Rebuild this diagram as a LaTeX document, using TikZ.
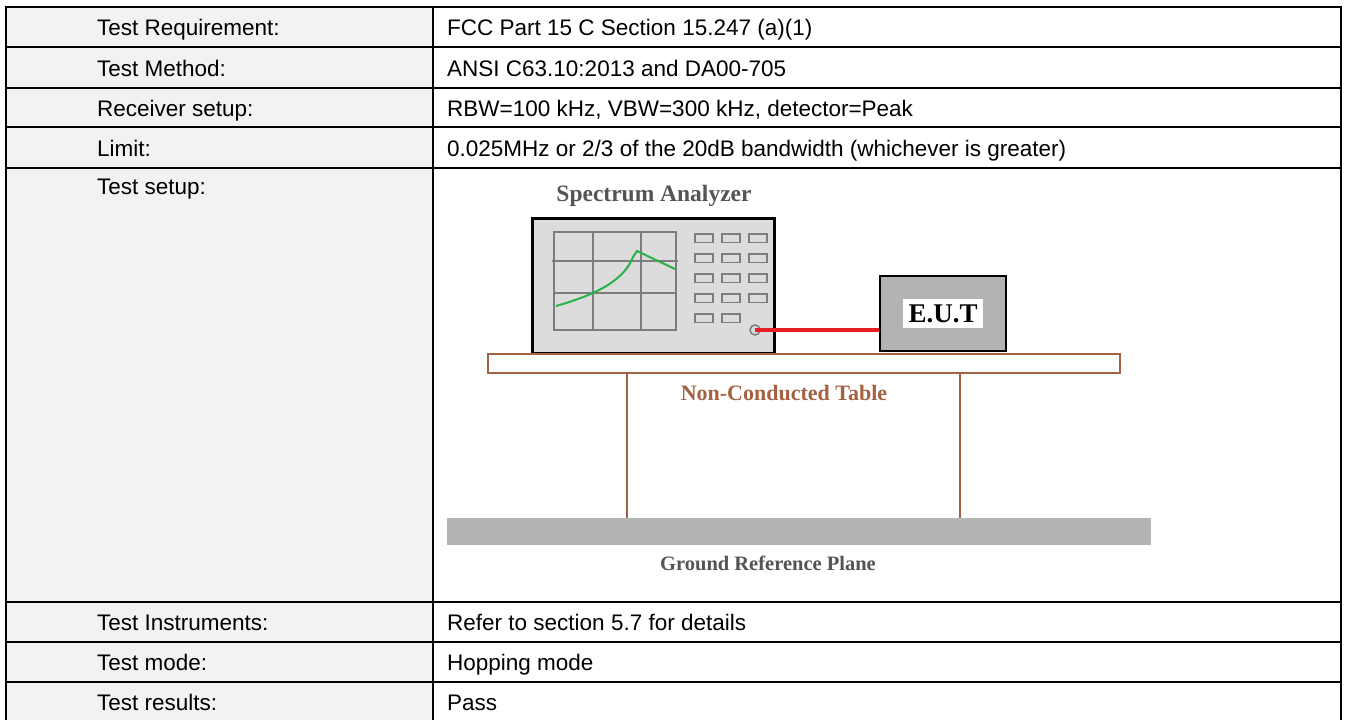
\documentclass[tikz,border=0pt]{standalone}
\usepackage{fontspec}
\setmainfont{Liberation Sans}
\newfontfamily\drawfont{Liberation Serif}
\usetikzlibrary{positioning}

\definecolor{cellgray}{RGB}{242,242,242}
\definecolor{sagray}{RGB}{220,220,220}
\definecolor{gridgray}{RGB}{125,125,125}
\definecolor{tracegreen}{RGB}{40,178,72}
\definecolor{cablered}{RGB}{232,28,36}
\definecolor{eutgray}{RGB}{179,179,179}
\definecolor{gndgray}{RGB}{180,180,180}
\definecolor{tablebrown}{RGB}{163,98,66}
\definecolor{satext}{RGB}{84,84,84}

\tikzset{
    rule/.style={line width=2pt},
    cellname/.style={font=\fontsize{22.5}{26}\selectfont,text height=16pt,text depth=0pt,inner sep=0pt,anchor=west},
    cellvalue/.style={cellname},
    gridline/.style={draw=gridgray,line width=2pt},
    button/.style={draw=gridgray,fill=sagray,line width=1.8pt,minimum width=18pt,minimum height=8.5pt,inner sep=0pt,anchor=north west},
    box/.style={inner sep=0pt,anchor=north west}
}

\begin{document}
\begin{tikzpicture}[x=1pt,y=-1pt]
        \useasboundingbox (0,0) rectangle (1347,720);
        %% Table frame
        \fill[cellgray] (6,7) rectangle (433,720);
        \foreach \y in {47,88,127,168,602,642,682}
            \draw[rule] (6,\y) -- (1341,\y);
        \draw[rule] (433,7) -- (433,720);
        \draw[rule] (6,720) -- (6,7) -- (1341,7) -- (1341,720);
        %% Table text
        \node[cellname] (reqName) at (97,27.5) {Test Requirement:};
        \node[cellvalue] (reqValue) at (447,27.5) {FCC Part 15 C Section 15.247 (a)(1)};
        \node[cellname] (methodName) at (97,68) {Test Method:};
        \node[cellvalue] (methodValue) at (447,68) {ANSI C63.10:2013 and DA00-705};
        \node[cellname] (rxName) at (97,108) {Receiver setup:};
        \node[cellvalue] (rxValue) at (447,108) {RBW=100 kHz, VBW=300 kHz, detector=Peak};
        \node[cellname] (limitName) at (97,148) {Limit:};
        \node[cellvalue] (limitValue) at (447,148) {0.025MHz or 2/3 of the 20dB bandwidth (whichever is greater)};
        \node[cellname] (setupName) at (97,186) {Test setup:};
        \node[cellname] (instrName) at (97,622.5) {Test Instruments:};
        \node[cellvalue] (instrValue) at (447,622.5) {Refer to section 5.7 for details};
        \node[cellname] (modeName) at (97,662.5) {Test mode:};
        \node[cellvalue] (modeValue) at (447,662.5) {Hopping mode};
        \node[cellname] (resultName) at (97,702) {Test results:};
        \node[cellvalue] (resultValue) at (447,702) {Pass};
        %% Spectrum analyzer
        \node[font=\drawfont\bfseries\fontsize{23.5}{27}\selectfont,text=satext] (saLabel) at (654,196) {Spectrum Analyzer};
        \node[box,draw=black,line width=3pt,fill=sagray,minimum width=242pt,minimum height=135pt] (SA) at (531,217) {};
        \draw[gridline] (554,232) rectangle (676,330);
        \draw[gridline] (593,232) -- (593,330) (641,232) -- (641,330);
        \draw[gridline] (552,261) -- (678,261) (554,293) -- (676,293);
        \draw[draw=tracegreen,line width=2pt] (556,306) .. controls (598,294) and (624,280) .. (633,257) -- (637,251) -- (675,269);
        \foreach \x in {694,721,748}
            \foreach \y in {233,253,273,293}
                \node[button] (btn-\x-\y) at (\x,\y) {};
        \foreach \x in {694,721}
            \node[button] (btn-\x-313) at (\x,313) {};
        \node[circle,draw=gridgray,fill=sagray,line width=1.5pt,minimum size=10pt,inner sep=0pt] (port) at (755,330) {};
        %% E.U.T
        \node[box,draw=black,line width=2pt,fill=eutgray,minimum width=126pt,minimum height=75pt] (EUT) at (879,275) {};
        \node[fill=white,font=\drawfont\bfseries\fontsize{27}{30}\selectfont,inner sep=0pt,minimum width=80pt,minimum height=29pt] (eutLabel) at (EUT.center) {E.U.T};
        %% Cable
        \draw[draw=cablered,line width=4pt] (port.center) -- (port.center -| EUT.west);
        %% Table and ground
        \node[box,draw=tablebrown,line width=2.2pt,fill=white,minimum width=632pt,minimum height=19pt] (tableTop) at (487,353) {};
        \node[box,fill=gndgray,minimum width=704pt,minimum height=27pt] (ground) at (447,518) {};
        \coordinate (legA) at (627,0);
        \coordinate (legB) at (960,0);
        \draw[draw=tablebrown,line width=2pt] (tableTop.south -| legA) -- (ground.north -| legA);
        \draw[draw=tablebrown,line width=2pt] (tableTop.south -| legB) -- (ground.north -| legB);
        \node[font=\drawfont\bfseries\fontsize{22}{26}\selectfont,text=tablebrown] (tableLabel) at (784,393) {Non-Conducted Table};
        \node[font=\drawfont\bfseries\fontsize{20.5}{24}\selectfont,text=satext] (groundLabel) at (768,563) {Ground Reference Plane};
    \end{tikzpicture}
\end{document}
